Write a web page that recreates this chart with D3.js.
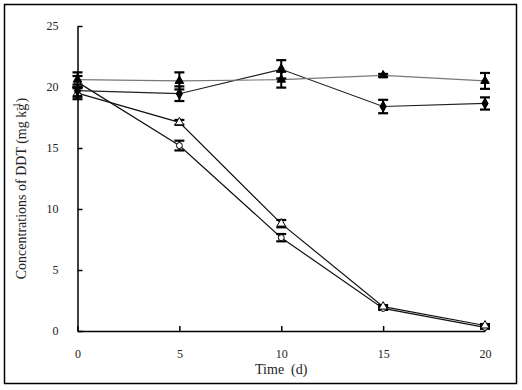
<!DOCTYPE html>
<html>
<head>
<meta charset="utf-8">
<script src="https://cdn.jsdelivr.net/npm/d3@7"></script>
<style>
  body { margin: 0; background: #fff; }
  svg text { font-family: "Liberation Serif", "DejaVu Serif", serif; fill: #222; }
</style>
</head>
<body>
<div id="vis"></div>
<script>
// DDT concentration over time, four treatments with error bars
const days = [0, 5, 10, 15, 20];
const xTicks = [0, 5, 10, 15, 20];
const yTicks = [0, 5, 10, 15, 20, 25];

const filledTriangle = [20.6, 20.5, 20.6, 20.95, 20.5];
const filledTriangleErr = [0.6, 0.7, 0.65, 0.12, 0.65];
const filledDiamond = [19.7, 19.45, 21.45, 18.4, 18.65];
const filledDiamondErr = [0.5, 0.6, 0.75, 0.55, 0.5];
const openTriangle = [19.5, 17.1, 8.8, 2.0, 0.45];
const openTriangleErr = [0.5, 0.2, 0.3, 0.12, 0.12];
const openCircle = [20.4, 15.2, 7.65, 1.85, 0.3];
const openCircleErr = [0.5, 0.4, 0.3, 0.12, 0.12];

const series = [
  { name: "open circle", values: openCircle, err: openCircleErr, shape: "circle", fill: "#fff", line: "#111" },
  { name: "open triangle", values: openTriangle, err: openTriangleErr, shape: "triangle", fill: "#fff", line: "#111" },
  { name: "filled diamond", values: filledDiamond, err: filledDiamondErr, shape: "diamond", fill: "#000", line: "#222" },
  { name: "filled triangle", values: filledTriangle, err: filledTriangleErr, shape: "triangle", fill: "#000", line: "#777" }
];

const width = 522;
const height = 390;
const margin = { top: 26, right: 35, bottom: 59, left: 77.5 };

const svg = d3.select("#vis")
  .append("svg")
  .attr("width", width)
  .attr("height", height);

// outer frame
svg.append("rect")
  .attr("x", 4.5)
  .attr("y", 4.5)
  .attr("width", 512)
  .attr("height", 379)
  .attr("fill", "none")
  .attr("stroke", "#000")
  .attr("stroke-width", 1.5);

const x = d3.scaleLinear()
  .domain([0, 20])
  .range([margin.left, width - margin.right - 2]);

const y = d3.scaleLinear()
  .domain([0, 25])
  .range([height - margin.bottom, margin.top]);

// axes, ticks point inward
const xAxis = svg.append("g")
  .attr("transform", `translate(0,${y(0)})`)
  .call(d3.axisBottom(x).tickValues(xTicks).tickSize(-5).tickPadding(18).tickSizeOuter(0));

const yAxis = svg.append("g")
  .attr("transform", `translate(${x(0)},0)`)
  .call(d3.axisLeft(y).tickValues(yTicks).tickSize(-5).tickPadding(19).tickSizeOuter(0));

[xAxis, yAxis].forEach(g => {
  g.selectAll("path, line").attr("stroke", "#000").attr("stroke-width", 1.5);
  g.selectAll("text")
    .style("font-family", "'Liberation Serif', serif")
    .style("font-size", "12px")
    .attr("fill", "#333");
});

// axis titles
svg.append("text")
  .attr("x", x(10))
  .attr("y", 374)
  .attr("text-anchor", "middle")
  .style("font-size", "14px")
  .text("Time\u00a0 (d)");

const yTitle = svg.append("text")
  .attr("transform", `translate(26,${(y(0) + y(25)) / 2 + 10}) rotate(-90)`)
  .attr("text-anchor", "middle")
  .style("font-size", "14px");
yTitle.append("tspan").text("Concentrations of DDT (mg kg");
yTitle.append("tspan").attr("dy", -6).attr("dx", -7).style("font-size", "10px").text("-1");
yTitle.append("tspan").attr("dy", 6).text(")");

const line = d3.line()
  .x((d, i) => x(days[i]))
  .y(d => y(d));

const symbolType = {
  circle: d3.symbolCircle,
  triangle: d3.symbolTriangle,
  diamond: d3.symbolDiamond
};
const symbolSize = { circle: 28, triangle: 32, diamond: 34 };

series.forEach(s => {
  svg.append("path")
    .datum(s.values)
    .attr("d", line)
    .attr("fill", "none")
    .attr("stroke", s.line)
    .attr("stroke-width", 1.2);
});

series.forEach(s => {
  const g = svg.append("g");
  s.values.forEach((v, i) => {
    const cx = x(days[i]);
    const lo = y(v - s.err[i]);
    const hi = y(v + s.err[i]);
    g.append("line")
      .attr("x1", cx).attr("x2", cx)
      .attr("y1", lo).attr("y2", hi)
      .attr("stroke", "#000").attr("stroke-width", 2);
    [lo, hi].forEach(cy => {
      g.append("line")
        .attr("x1", cx - 5).attr("x2", cx + 5)
        .attr("y1", cy).attr("y2", cy)
        .attr("stroke", "#000").attr("stroke-width", 2.2);
    });
    g.append("path")
      .attr("transform", `translate(${cx},${y(v)})`)
      .attr("d", d3.symbol().type(symbolType[s.shape]).size(symbolSize[s.shape])())
      .attr("fill", s.fill)
      .attr("stroke", "#000")
      .attr("stroke-width", 1);
  });
});
</script>
</body>
</html>
